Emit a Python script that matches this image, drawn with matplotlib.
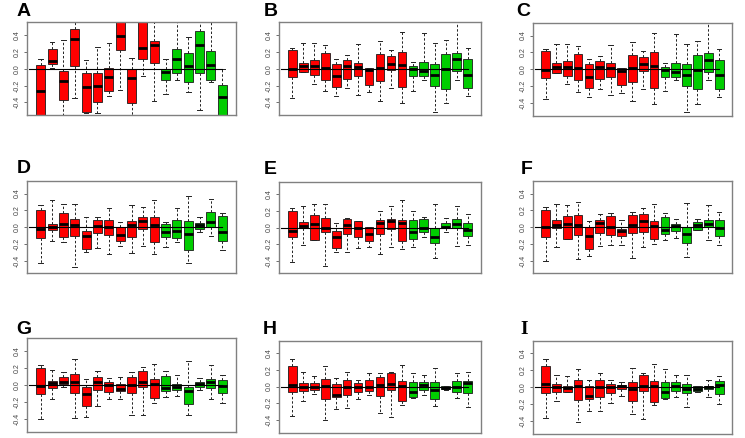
import matplotlib
matplotlib.use("Agg")
import matplotlib.pyplot as plt

# ---------------- data (per panel: whisker low, Q1, median, Q3, whisker high) -------------
A_lo  = [-0.70, 0.01, -0.65, -0.35, -0.53, -0.53, -0.33, -0.25, -0.65, -0.09, -0.38, -0.30, -0.13, -0.28, -0.49, -0.16, -0.70]
A_q1  = [-0.62, 0.05, -0.37, 0.03, -0.51, -0.39, -0.26, 0.22, -0.41, 0.12, 0.07, -0.13, -0.05, -0.16, -0.05, -0.13, -0.60]
A_med = [-0.26, 0.09, -0.15, 0.35, -0.22, -0.21, -0.10, 0.39, -0.11, 0.25, 0.28, -0.04, 0.11, 0.03, 0.28, 0.04, -0.34]
A_q3  = [0.04, 0.23, -0.03, 0.47, -0.05, -0.05, 0.01, 0.62, -0.01, 0.60, 0.33, -0.01, 0.23, 0.18, 0.45, 0.21, -0.19]
A_hi  = [0.12, 0.32, 0.34, 0.56, 0.10, 0.26, 0.30, 0.75, 0.13, 0.75, 0.65, 0.11, 0.65, 0.38, 0.65, 0.65, 0.00]

B_lo  = [-0.35, -0.04, -0.18, -0.27, -0.33, -0.23, -0.31, -0.28, -0.38, -0.23, -0.41, -0.26, -0.13, -0.51, -0.41, -0.13, -0.33]
B_q1  = [-0.10, -0.04, -0.08, -0.13, -0.22, -0.12, -0.09, -0.19, -0.15, -0.02, -0.22, -0.09, -0.09, -0.20, -0.24, -0.03, -0.23]
B_med = [-0.01, 0.03, 0.03, 0.01, -0.09, 0.03, 0.02, -0.02, 0.01, 0.06, 0.04, -0.01, -0.03, -0.07, -0.01, 0.11, -0.07]
B_q3  = [0.22, 0.07, 0.10, 0.18, 0.06, 0.10, 0.07, 0.01, 0.17, 0.15, 0.20, 0.03, 0.08, 0.06, 0.17, 0.19, 0.11]
B_hi  = [0.24, 0.30, 0.30, 0.28, 0.12, 0.16, 0.29, 0.01, 0.33, 0.22, 0.43, 0.08, 0.42, 0.30, 0.34, 0.65, 0.24]

C_lo, C_q1, C_med, C_q3, C_hi = list(B_lo), list(B_q1), list(B_med), list(B_q3), list(B_hi)

D_lo  = [-0.43, -0.16, -0.18, -0.48, -0.30, -0.25, -0.32, -0.22, -0.31, -0.22, -0.32, -0.24, -0.18, -0.43, -0.06, -0.11, -0.27]
D_q1  = [-0.13, -0.03, -0.12, -0.10, -0.26, -0.07, -0.09, -0.16, -0.12, -0.02, -0.18, -0.12, -0.13, -0.27, -0.02, 0.00, -0.16]
D_med = [-0.02, 0.00, 0.04, 0.02, -0.10, 0.01, 0.00, -0.09, 0.03, 0.07, 0.02, -0.06, -0.04, -0.08, 0.02, 0.06, -0.06]
D_q3  = [0.20, 0.04, 0.17, 0.10, -0.04, 0.08, 0.09, 0.00, 0.07, 0.12, 0.12, 0.04, 0.09, 0.07, 0.05, 0.18, 0.13]
D_hi  = [0.26, 0.32, 0.27, 0.28, 0.12, 0.12, 0.23, 0.06, 0.26, 0.24, 0.32, 0.06, 0.23, 0.37, 0.12, 0.33, 0.17]

E_lo  = [-0.42, -0.21, -0.15, -0.46, -0.29, -0.30, -0.25, -0.24, -0.32, -0.24, -0.26, -0.23, -0.11, -0.37, -0.06, -0.22, -0.21]
E_q1  = [-0.11, 0.00, -0.15, -0.06, -0.25, -0.08, -0.12, -0.16, -0.08, -0.02, -0.16, -0.14, -0.06, -0.19, 0.00, 0.00, -0.10]
E_med = [-0.04, 0.02, 0.04, 0.00, -0.11, 0.03, 0.00, -0.08, 0.06, 0.08, 0.05, -0.06, 0.00, -0.12, 0.01, 0.04, -0.03]
E_q3  = [0.20, 0.07, 0.15, 0.11, -0.04, 0.10, 0.08, 0.01, 0.09, 0.10, 0.09, 0.09, 0.10, 0.00, 0.05, 0.10, 0.06]
E_hi  = [0.24, 0.26, 0.28, 0.28, 0.06, 0.12, 0.08, 0.01, 0.20, 0.26, 0.33, 0.20, 0.13, 0.28, 0.11, 0.26, 0.16]

F_lo  = [-0.40, -0.24, -0.14, -0.38, -0.34, -0.23, -0.21, -0.21, -0.37, -0.24, -0.20, -0.15, -0.13, -0.35, -0.03, -0.15, -0.21]
F_q1  = [-0.12, -0.01, -0.14, -0.09, -0.26, -0.07, -0.09, -0.11, -0.07, -0.06, -0.14, -0.08, -0.05, -0.19, -0.03, 0.00, -0.11]
F_med = [0.00, 0.02, 0.04, 0.03, -0.11, 0.05, 0.00, -0.04, 0.02, 0.07, 0.01, -0.03, 0.01, -0.08, 0.02, 0.04, -0.01]
F_q3  = [0.21, 0.09, 0.13, 0.14, 0.00, 0.09, 0.13, -0.02, 0.15, 0.16, 0.07, 0.12, 0.04, 0.00, 0.06, 0.08, 0.09]
F_hi  = [0.24, 0.28, 0.26, 0.30, 0.07, 0.16, 0.17, 0.08, 0.18, 0.23, 0.27, 0.17, 0.10, 0.29, 0.10, 0.26, 0.18]

G_lo  = [-0.40, -0.17, -0.02, -0.39, -0.38, -0.25, -0.16, -0.17, -0.35, -0.35, -0.21, -0.14, -0.13, -0.35, -0.06, -0.17, -0.21]
G_q1  = [-0.11, -0.04, 0.01, -0.10, -0.25, -0.06, -0.08, -0.07, -0.10, -0.02, -0.15, -0.07, -0.06, -0.22, -0.02, -0.03, -0.09]
G_med = [-0.01, 0.02, 0.04, 0.04, -0.11, 0.04, 0.00, -0.05, 0.00, 0.03, 0.01, -0.04, -0.02, -0.07, 0.01, 0.04, -0.01]
G_q3  = [0.20, 0.05, 0.09, 0.13, -0.02, 0.09, 0.03, 0.01, 0.10, 0.16, 0.07, 0.11, 0.01, -0.02, 0.04, 0.07, 0.06]
G_hi  = [0.24, 0.18, 0.15, 0.31, 0.07, 0.16, 0.08, 0.10, 0.15, 0.21, 0.25, 0.16, 0.12, 0.28, 0.08, 0.24, 0.12]

H_lo  = [-0.35, -0.17, -0.09, -0.40, -0.27, -0.26, -0.15, -0.10, -0.31, -0.36, -0.22, -0.14, -0.10, -0.23, -0.04, -0.14, -0.24]
H_q1  = [-0.07, -0.05, -0.04, -0.15, -0.13, -0.10, -0.07, -0.05, -0.11, -0.04, -0.17, -0.12, -0.04, -0.15, -0.03, -0.06, -0.08]
H_med = [0.02, 0.00, 0.00, 0.01, -0.10, 0.00, -0.01, -0.01, 0.02, 0.03, 0.01, -0.06, 0.02, -0.04, -0.02, -0.01, 0.04]
H_q3  = [0.25, 0.04, 0.04, 0.09, 0.03, 0.08, 0.04, 0.08, 0.11, 0.16, 0.07, 0.06, 0.05, 0.05, 0.01, 0.07, 0.07]
H_hi  = [0.33, 0.18, 0.13, 0.24, 0.10, 0.17, 0.08, 0.16, 0.16, 0.17, 0.26, 0.16, 0.14, 0.22, 0.01, 0.16, 0.18]

I_lo  = [-0.36, -0.16, -0.05, -0.41, -0.28, -0.28, -0.18, -0.10, -0.32, -0.37, -0.21, -0.14, -0.12, -0.23, -0.05, -0.12, -0.20]
I_q1  = [-0.07, -0.05, -0.05, -0.15, -0.14, -0.11, -0.07, -0.02, -0.16, -0.04, -0.17, -0.13, -0.04, -0.07, -0.04, -0.02, -0.08]
I_med = [0.04, 0.00, -0.01, 0.02, -0.10, 0.00, 0.00, 0.01, -0.02, 0.02, 0.01, -0.06, 0.02, -0.02, -0.02, 0.00, 0.03]
I_q3  = [0.25, 0.04, 0.02, 0.08, 0.02, 0.08, 0.04, 0.03, 0.06, 0.15, 0.07, 0.06, 0.06, 0.04, 0.02, 0.02, 0.07]
I_hi  = [0.33, 0.15, 0.13, 0.22, 0.08, 0.17, 0.08, 0.06, 0.23, 0.17, 0.27, 0.22, 0.15, 0.15, 0.02, 0.08, 0.13]

n_red = 11
n_green = 6
panel_labels = ["A", "B", "C", "D", "E", "F", "G", "H", "I"]
y_ticks = [-0.4, -0.2, 0.0, 0.2, 0.4]
y_ticklabels = ["-0.4", "-0.2", "0.0", "0.2", "0.4"]

panels = {
    "A": (A_lo, A_q1, A_med, A_q3, A_hi),
    "B": (B_lo, B_q1, B_med, B_q3, B_hi),
    "C": (C_lo, C_q1, C_med, C_q3, C_hi),
    "D": (D_lo, D_q1, D_med, D_q3, D_hi),
    "E": (E_lo, E_q1, E_med, E_q3, E_hi),
    "F": (F_lo, F_q1, F_med, F_q3, F_hi),
    "G": (G_lo, G_q1, G_med, G_q3, G_hi),
    "H": (H_lo, H_q1, H_med, H_q3, H_hi),
    "I": (I_lo, I_q1, I_med, I_q3, I_hi),
}

# ---------------- layout (pixels: left, top, right, bottom) ----------------
W, H = 745, 438
axes_px = {
    "A": (27.3, 22.3, 235.7, 115.0),
    "B": (279.3, 22.3, 480.7, 115.0),
    "C": (532.7, 23.0, 732.0, 115.5),
    "D": (27.3, 181.0, 235.7, 273.3),
    "E": (279.3, 181.7, 480.7, 273.3),
    "F": (532.7, 181.0, 732.0, 273.3),
    "G": (27.3, 338.3, 235.7, 431.7),
    "H": (279.3, 340.5, 480.7, 432.7),
    "I": (532.7, 340.5, 732.0, 434.0),
}
label_px = {
    "A": (16.5, 3.0), "B": (264.0, 3.0), "C": (516.0, 3.0),
    "D": (16.5, 160.0), "E": (263.5, 161.0), "F": (521.0, 161.0),
    "G": (16.5, 321.0), "H": (263.0, 321.0), "I": (520.0, 321.0),
}

RED = "#FF0000"
GREEN = "#00CD00"

fig = plt.figure(figsize=(W / 100, H / 100), dpi=100)
fig.patch.set_facecolor("white")

for key in panel_labels:
    lo, q1, med, q3, hi = panels[key]
    l, t, r, b = axes_px[key]
    ax = fig.add_axes([l / W, 1 - b / H, (r - l) / W, (b - t) / H])
    n = len(med)
    stats = [dict(whislo=lo[i], q1=q1[i], med=med[i], q3=q3[i], whishi=hi[i], fliers=[])
             for i in range(n)]
    positions = list(range(1, n + 1))
    bp = ax.bxp(stats, positions=positions, widths=0.8, patch_artist=True,
                showfliers=False,
                boxprops=dict(edgecolor="#1a1a1a", linewidth=0.6),
                medianprops=dict(color="black", linewidth=2.0, solid_capstyle="butt"),
                whiskerprops=dict(color="#222222", linewidth=0.7, linestyle=(0, (2.5, 2))),
                capprops=dict(color="#222222", linewidth=0.7),
                capwidths=0.4)
    for i, patch in enumerate(bp["boxes"]):
        patch.set_facecolor(RED if i < n_red else GREEN)
    ax.plot([0, n], [0, 0], color="black", linewidth=0.8, zorder=5)
    ax.set_xlim(0.5 - 0.04 * n, n + 0.5 + 0.04 * n)
    ax.set_ylim(-0.55, 0.55)
    ax.set_xticks([])
    ax.set_yticks(y_ticks)
    ax.set_yticklabels(y_ticklabels, rotation=90, va="center", fontsize=5,
                       color="#444444", family="Liberation Sans")
    ax.tick_params(axis="y", length=2.5, width=0.6, color="#555555", pad=2)
    for sp in ax.spines.values():
        sp.set_color("#808080")
        sp.set_linewidth(1.0)
    lx, ly = label_px[key]
    fam = "Liberation Serif" if key == "I" else "Liberation Sans"
    fig.text(lx / W, 1 - ly / H, key, fontsize=14, fontweight="bold",
             family=fam, ha="left", va="top")

fig.savefig("out.png", dpi=100, facecolor="white")
